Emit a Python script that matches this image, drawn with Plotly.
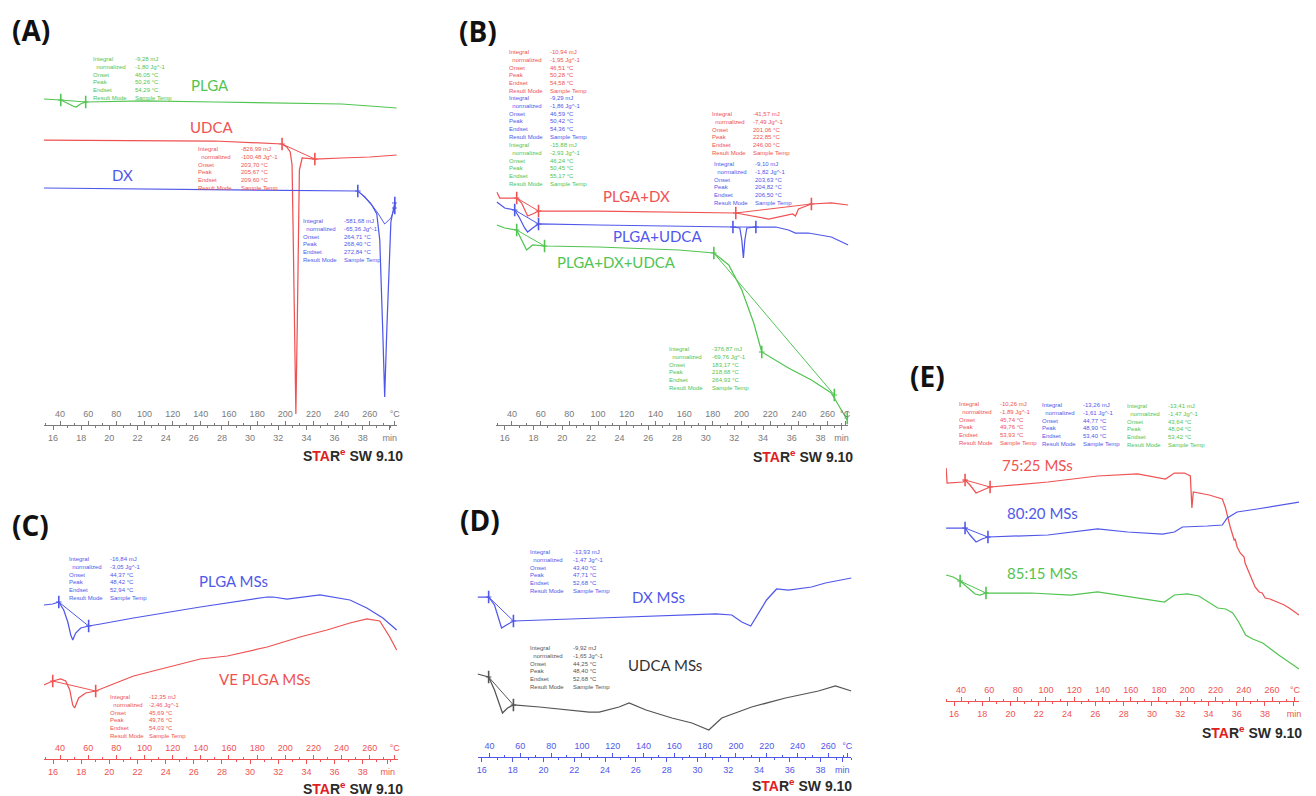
import plotly.graph_objects as go

W, H = 1316, 796
RED, BLUE, GREEN, GREY = '#ef5252', '#5058ea', '#52c452', '#555555'
AXGREY = '#7a7a7a'

# ---------------- axis tick labels / heating programme ----------------
TEMP_TICKS = list(range(40, 261, 20))          # °C
TIME_TICKS = list(range(16, 39, 2))            # min
T_AT_16MIN, T0_MIN, RATE = 35.0, 16.0, 10.0    # 35 °C at 16 min, 10 K/min

# ---------------- (A) raw materials ----------------
A_PLGA_T  = [28.5, 40.5, 45.0, 49.0, 51.5, 54.5, 58.2, 100, 150, 200, 240, 260, 279.2]
A_PLGA_HF = [32.6, 32.5, 32.2, 31.9, 31.8, 32.1, 32.3, 32.4, 32.3, 32.2, 32.1, 31.9, 31.7]
A_PLGA_MK_T, A_PLGA_MK_HF = [40.5, 58.2], [32.5, 32.3]

A_UDCA_T  = [28.5, 100, 150, 197.7, 201.0, 203.5, 204.8, 205.5, 206.5, 207.5, 208.5, 209.3, 210.0, 212.0, 221.0, 240, 260, 279.2]
A_UDCA_HF = [28.5, 28.4, 28.4, 28.1, 27.8, 27.3, 26.0, 20.0, 8.0, 1.1, 10.0, 20.0, 25.5, 26.7, 26.6, 26.7, 26.8, 27.0]
A_UDCA_MK_T, A_UDCA_MK_HF = [197.7, 221.0], [28.1, 26.6]

A_DX_T  = [28.5, 100, 200, 251.5, 256.5, 261.4, 265.0, 267.1, 269.2, 270.6, 272.1, 273.9, 275.0, 276.4, 277.8]
A_DX_HF = [23.7, 23.6, 23.5, 23.4, 22.8, 22.0, 21.1, 18.5, 9.5, 2.8, 9.5, 17.5, 20.3, 21.3, 22.2]
A_DX_BL_T  = [251.5, 260.0, 265.7, 270.6, 275.0, 277.8]
A_DX_BL_HF = [23.4, 22.3, 21.2, 20.1, 20.7, 21.7]
A_DX_MK_T, A_DX_MK_HF = [251.5, 277.8, 277.8], [23.4, 22.2, 21.7]

# ---------------- (B) physical mixtures ----------------
B_DX_T  = [29.4, 31.5, 37.0, 43.3, 46.7, 50.9, 54.4, 58.5, 100, 150, 196.0, 218.9, 229.6, 235.6, 237.6, 239.7, 248.7, 262.6, 274.4]
B_DX_HF = [23.3, 22.7, 22.7, 22.7, 22.2, 20.9, 21.1, 21.4, 21.4, 21.3, 21.2, 20.6, 20.9, 21.1, 20.9, 21.6, 22.1, 22.2, 22.0]
B_DX_MK_T, B_DX_MK_HF = [43.3, 58.5, 196.0, 248.7], [22.7, 21.4, 21.2, 22.1]

B_UDCA_T  = [29.4, 34.9, 41.9, 45.3, 48.8, 50.9, 54.4, 58.5, 100, 170, 194.0, 198.8, 200.2, 201.3, 202.3, 203.7, 210.0, 223.9, 232.7, 237.6, 246.6, 262.6, 274.4]
B_UDCA_HF = [22.3, 21.7, 21.5, 20.7, 19.7, 19.3, 19.7, 20.1, 20.0, 19.9, 19.8, 19.7, 18.5, 16.7, 18.5, 19.7, 19.8, 19.8, 19.5, 19.2, 19.2, 18.8, 18.0]
B_UDCA_MK_T, B_UDCA_MK_HF = [41.9, 58.5, 194.0, 210.0], [21.5, 20.1, 19.8, 19.8]

B_MIX_T  = [29.4, 34.9, 43.3, 47.4, 50.2, 54.4, 62.7, 100, 156.4, 180.7, 191.1, 200.2, 208.5, 214.1, 232.7, 248.7, 262.6, 267.5, 273.7]
B_MIX_HF = [20.0, 19.7, 19.5, 18.3, 17.5, 18.0, 17.9, 17.8, 17.5, 17.2, 16.0, 13.5, 10.2, 7.3, 5.7, 4.5, 3.2, 2.0, 0.5]
B_MIX_MK_T, B_MIX_MK_HF = [43.3, 62.7, 180.7, 214.1, 264.7, 273.7], [19.5, 17.9, 17.2, 7.3, 3.0, 0.7]

# ---------------- (C) blank microspheres ----------------
C_PLGA_T  = [28.5, 34.8, 39.1, 42.6, 45.5, 47.6, 49.0, 51.1, 54.7, 60.3, 68.8, 92.2, 139.6, 163.0, 187.1, 191.3, 201.2, 224.6, 233.8, 245.9, 257.9, 269.3, 279.1]
C_PLGA_HF = [15.4, 15.5, 15.7, 14.9, 13.7, 12.4, 11.9, 12.6, 13.1, 13.3, 13.5, 14.1, 15.2, 15.7, 16.2, 16.2, 16.0, 16.4, 16.2, 15.9, 15.1, 14.1, 12.9]
C_PLGA_MK_T, C_PLGA_MK_HF = [39.1, 60.3], [15.7, 13.3]

C_VE_T  = [28.5, 31.3, 34.8, 40.5, 44.0, 46.9, 49.0, 50.4, 53.2, 58.2, 65.3, 92.2, 116.3, 139.6, 158.8, 187.1, 210.4, 229.6, 245.9, 257.9, 267.1, 274.2, 279.1]
C_VE_HF = [7.4, 7.6, 7.8, 8.0, 7.8, 6.9, 5.4, 5.1, 6.1, 6.6, 6.8, 8.3, 9.2, 10.0, 10.3, 11.2, 12.2, 12.9, 13.6, 14.0, 13.8, 12.2, 10.9]
C_VE_MK_T, C_VE_MK_HF = [34.8, 65.3], [7.8, 6.8]

# ---------------- (D) drug-loaded microspheres ----------------
D_DX_T  = [32.2, 39.4, 43.2, 46.5, 47.8, 51.0, 55.5, 111.2, 175.9, 187.0, 197.3, 203.8, 209.6, 214.8, 219.9, 226.4, 234.2, 249.1, 258.1, 275.0]
D_DX_HF = [16.0, 16.0, 15.2, 13.7, 12.9, 13.2, 13.6, 13.9, 14.2, 14.3, 14.2, 13.5, 13.1, 14.4, 15.7, 16.8, 16.7, 17.0, 17.4, 17.9]
D_DX_MK_T, D_DX_MK_HF = [39.4, 55.5], [16.0, 13.6]

D_UDCA_T  = [32.2, 39.4, 43.2, 46.5, 48.4, 51.7, 55.5, 72.4, 104.7, 111.2, 124.1, 130.6, 141.6, 158.4, 171.4, 182.4, 190.8, 210.2, 232.2, 253.6, 264.6, 275.0]
D_UDCA_HF = [8.3, 8.0, 6.7, 5.2, 4.4, 4.9, 5.2, 5.0, 4.5, 4.5, 5.0, 5.4, 4.7, 3.9, 3.4, 2.7, 3.9, 5.0, 5.9, 6.6, 7.1, 6.6]
D_UDCA_MK_T, D_UDCA_MK_HF = [39.4, 55.5], [8.0, 5.2]

# ---------------- (E) polymer ratio microspheres ----------------
E_75_T  = [29.4, 30.1, 41.4, 42.8, 46.3, 50.6, 55.5, 60.5, 101.4, 136.6, 164.8, 184.6, 190.9, 198.0, 202.2, 203.3, 204.3, 215.6, 224.8, 226.9, 230.4, 233.2, 233.9, 235.3, 237.5, 240.2, 240.9, 243.8, 245.9, 248.0, 250.9, 253.0, 255.1, 258.6, 263.6, 268.6, 272.1, 279.1]
E_75_HF = [23.3, 21.8, 21.9, 22.1, 21.6, 20.8, 21.1, 21.4, 21.9, 22.5, 22.7, 22.2, 22.8, 22.8, 22.5, 19.3, 20.9, 20.6, 20.2, 19.4, 17.4, 16.1, 16.2, 15.4, 14.8, 14.4, 13.8, 12.8, 12.1, 11.4, 10.9, 10.8, 10.3, 10.2, 9.9, 9.6, 9.3, 8.6]
E_75_MK_T, E_75_MK_HF = [42.8, 60.5], [22.1, 21.4]

E_80_T  = [29.4, 42.8, 46.3, 50.6, 54.8, 59.0, 101.4, 136.6, 157.8, 182.5, 190.9, 196.6, 214.2, 224.8, 228.3, 235.3, 249.4, 279.1]
E_80_HF = [17.3, 17.3, 16.6, 15.9, 16.2, 16.4, 16.6, 17.2, 16.9, 16.7, 16.9, 17.4, 17.5, 17.6, 18.3, 18.9, 19.2, 19.9]
E_80_MK_T, E_80_MK_HF = [42.8, 59.0], [17.3, 16.4]

E_85_T  = [29.4, 34.4, 39.3, 44.9, 49.9, 53.4, 57.6, 89.4, 117.6, 136.6, 159.9, 183.9, 190.9, 200.1, 208.2, 215.3, 221.6, 227.2, 232.2, 236.4, 241.3, 246.3, 253.4, 264.7, 279.1]
E_85_HF = [12.6, 12.4, 12.0, 11.3, 10.7, 10.6, 10.8, 10.8, 10.6, 10.9, 10.4, 9.9, 10.6, 10.7, 10.5, 9.9, 9.3, 9.2, 8.8, 7.9, 6.6, 6.2, 5.8, 4.6, 3.2]
E_85_MK_T, E_85_MK_HF = [39.3, 57.6], [12.0, 10.8]

# ---------------- evaluation boxes (STARe result texts) ----------------
EVAL_LABELS = ['Integral', '\u00a0\u00a0normalized', 'Onset', 'Peak', 'Endset', 'Result Mode']
EV_A_PLGA  = ['-9,28 mJ', '-1,80 Jg^-1', '46,05 °C', '50,26 °C', '54,29 °C', 'Sample Temp']
EV_A_UDCA  = ['-826,99 mJ', '-100,48 Jg^-1', '203,70 °C', '205,67 °C', '209,60 °C', 'Sample Temp']
EV_A_DX    = ['-581,68 mJ', '-65,36 Jg^-1', '264,71 °C', '268,40 °C', '272,84 °C', 'Sample Temp']
EV_B_DX1   = ['-10,94 mJ', '-1,95 Jg^-1', '46,51 °C', '50,28 °C', '54,58 °C', 'Sample Temp']
EV_B_UDCA1 = ['-9,29 mJ', '-1,86 Jg^-1', '46,59 °C', '50,42 °C', '54,36 °C', 'Sample Temp']
EV_B_MIX1  = ['-15,88 mJ', '-2,93 Jg^-1', '46,24 °C', '50,45 °C', '55,17 °C', 'Sample Temp']
EV_B_DX2   = ['-41,57 mJ', '-7,49 Jg^-1', '201,06 °C', '222,85 °C', '246,00 °C', 'Sample Temp']
EV_B_UDCA2 = ['-9,10 mJ', '-1,82 Jg^-1', '203,63 °C', '204,82 °C', '206,50 °C', 'Sample Temp']
EV_B_MIX2  = ['-376,87 mJ', '-69,76 Jg^-1', '183,17 °C', '218,68 °C', '264,93 °C', 'Sample Temp']
EV_C_PLGA  = ['-16,84 mJ', '-3,05 Jg^-1', '44,37 °C', '48,42 °C', '52,94 °C', 'Sample Temp']
EV_C_VE    = ['-12,35 mJ', '-2,46 Jg^-1', '45,69 °C', '49,76 °C', '54,03 °C', 'Sample Temp']
EV_D_DX    = ['-13,93 mJ', '-1,47 Jg^-1', '43,40 °C', '47,71 °C', '52,68 °C', 'Sample Temp']
EV_D_UDCA  = ['-9,92 mJ', '-1,65 Jg^-1', '44,25 °C', '48,40 °C', '52,68 °C', 'Sample Temp']
EV_E_75    = ['-10,26 mJ', '-1,89 Jg^-1', '45,74 °C', '49,76 °C', '53,93 °C', 'Sample Temp']
EV_E_80    = ['-13,26 mJ', '-1,61 Jg^-1', '44,77 °C', '48,90 °C', '53,40 °C', 'Sample Temp']
EV_E_85    = ['-13,41 mJ', '-1,47 Jg^-1', '43,64 °C', '48,04 °C', '53,42 °C', 'Sample Temp']

# ---------------- layout of the five thermogram panels (pixels) ----------------
PANELS = {
    1: dict(x0=43, x1=397, axis=425, top=40, trange=(28.5, 279.2), unitT=277.7, unit_t=39.92, color=AXGREY),
    2: dict(x0=497, x1=850, axis=425, top=40, trange=(29.2, 274.5), unitT=272.2, unit_t=39.46, color=AXGREY),
    3: dict(x0=43, x1=398, axis=759, top=540, trange=(28.5, 279.9), unitT=277.7, unit_t=39.78, color=RED),
    4: dict(x0=478, x1=853, axis=757, top=540, trange=(32.2, 275.0), unitT=272.3, unit_t=39.41, color=BLUE),
    5: dict(x0=948, x1=1302, axis=701, top=390, trange=(29.4, 279.1), unitT=276.2, unit_t=40.05, color=RED),
}


def fx(px):
    return px / W


def fy(py):
    return 1 - py / H


def to_min(T):
    return (T - T_AT_16MIN) / RATE + T0_MIN


fig = go.Figure()


def axn(i, kind):
    return kind if i == 1 else f'{kind}{i}'


def curve(ax, T, HF, color, width=1.25):
    fig.add_trace(go.Scatter(x=T, y=HF, mode='lines', line=dict(color=color, width=width),
                             xaxis=axn(ax, 'x'), yaxis=axn(ax, 'y'),
                             hoverinfo='skip', showlegend=False))


def marks(ax, T, HF, color, baselines=()):
    for a, b in baselines:
        curve(ax, [T[a], T[b]], [HF[a], HF[b]], color, width=1.0)
    fig.add_trace(go.Scatter(x=T, y=HF, mode='markers',
                             marker=dict(symbol='line-ns-open', size=9, color=color,
                                         line=dict(color=color, width=1.6)),
                             xaxis=axn(ax, 'x'), yaxis=axn(ax, 'y'),
                             hoverinfo='skip', showlegend=False))
    fig.add_trace(go.Scatter(x=T, y=HF, mode='markers',
                             marker=dict(symbol='line-ew-open', size=4, color=color,
                                         line=dict(color=color, width=1.2)),
                             xaxis=axn(ax, 'x'), yaxis=axn(ax, 'y'),
                             hoverinfo='skip', showlegend=False))


# (A)
curve(1, A_PLGA_T, A_PLGA_HF, GREEN); marks(1, A_PLGA_MK_T, A_PLGA_MK_HF, GREEN, [(0, 1)])
curve(1, A_UDCA_T, A_UDCA_HF, RED);   marks(1, A_UDCA_MK_T, A_UDCA_MK_HF, RED, [(0, 1)])
curve(1, A_DX_T, A_DX_HF, BLUE);      curve(1, A_DX_BL_T, A_DX_BL_HF, BLUE, 1.0)
marks(1, A_DX_MK_T, A_DX_MK_HF, BLUE)
# (B)
curve(2, B_DX_T, B_DX_HF, RED);       marks(2, B_DX_MK_T, B_DX_MK_HF, RED, [(0, 1), (2, 3)])
curve(2, B_UDCA_T, B_UDCA_HF, BLUE);  marks(2, B_UDCA_MK_T, B_UDCA_MK_HF, BLUE, [(0, 1), (2, 3)])
curve(2, B_MIX_T, B_MIX_HF, GREEN);   marks(2, B_MIX_MK_T, B_MIX_MK_HF, GREEN, [(0, 1), (2, 4)])
# (C)
curve(3, C_PLGA_T, C_PLGA_HF, BLUE);  marks(3, C_PLGA_MK_T, C_PLGA_MK_HF, BLUE, [(0, 1)])
curve(3, C_VE_T, C_VE_HF, RED);       marks(3, C_VE_MK_T, C_VE_MK_HF, RED, [(0, 1)])
# (D)
curve(4, D_DX_T, D_DX_HF, BLUE);      marks(4, D_DX_MK_T, D_DX_MK_HF, BLUE, [(0, 1)])
curve(4, D_UDCA_T, D_UDCA_HF, GREY);  marks(4, D_UDCA_MK_T, D_UDCA_MK_HF, GREY, [(0, 1)])
# (E)
curve(5, E_75_T, E_75_HF, RED);       marks(5, E_75_MK_T, E_75_MK_HF, RED, [(0, 1)])
curve(5, E_80_T, E_80_HF, BLUE);      marks(5, E_80_MK_T, E_80_MK_HF, BLUE, [(0, 1)])
curve(5, E_85_T, E_85_HF, GREEN);     marks(5, E_85_MK_T, E_85_MK_HF, GREEN, [(0, 1)])

layout = dict(width=W, height=H, margin=dict(l=0, r=0, t=0, b=0),
              paper_bgcolor='white', plot_bgcolor='rgba(0,0,0,0)', showlegend=False)

for i, p in PANELS.items():
    pos = fy(p['axis'])
    col = p['color']
    tfont = dict(family='Liberation Sans, Arial, sans-serif', size=9, color=col)
    layout[axn(i, 'xaxis')] = dict(
        domain=[fx(p['x0']), fx(p['x1'])], range=list(p['trange']),
        anchor='free', position=pos, side='top',
        showline=True, linecolor=col, linewidth=1, showgrid=False, zeroline=False,
        ticks='outside', ticklen=4, tickcolor=col, tickwidth=1,
        tickmode='array', tickvals=TEMP_TICKS + [p['unitT']],
        ticktext=[str(v) for v in TEMP_TICKS] + ['°C'], tickfont=tfont,
        minor=dict(ticks='outside', ticklen=2, tick0=30, dtick=10, tickcolor=col, showgrid=False),
        fixedrange=True)
    layout[axn(i, 'yaxis')] = dict(
        domain=[pos, fy(p['top'])], range=[0, (p['axis'] - p['top']) / 10.0],
        visible=False, anchor=axn(i, 'x'), fixedrange=True)
    j = i + 5
    layout[f'xaxis{j}'] = dict(
        overlaying=axn(i, 'x'), anchor='free', position=pos, side='bottom',
        range=[to_min(p['trange'][0]), to_min(p['trange'][1])],
        showline=False, showgrid=False, zeroline=False,
        ticks='outside', ticklen=4, tickcolor=col, tickwidth=1,
        tickmode='array', tickvals=TIME_TICKS + [p['unit_t']],
        ticktext=[str(v) for v in TIME_TICKS] + ['min'], tickfont=tfont,
        minor=dict(ticks='outside', ticklen=2, tick0=15, dtick=1, tickcolor=col, showgrid=False),
        fixedrange=True)
    fig.add_trace(go.Scatter(x=[], y=[], xaxis=f'x{j}', yaxis=axn(i, 'y'),
                             showlegend=False, hoverinfo='skip'))

fig.update_layout(**layout)

anns = []


def text(t, px, py, size, color, family='Lato, sans-serif', xanchor='center', yanchor='middle'):
    anns.append(dict(text=t, x=fx(px), y=fy(py), xref='paper', yref='paper',
                     xanchor=xanchor, yanchor=yanchor, showarrow=False,
                     font=dict(family=family, size=size, color=color), borderpad=0))


def evalbox(values, lx, vx, row1, color):
    for col_text, x in ((EVAL_LABELS, lx), (values, vx)):
        anns.append(dict(text='<br>'.join(col_text), x=fx(x), y=fy(row1 - 4.0),
                         xref='paper', yref='paper', xanchor='left', yanchor='top',
                         align='left', showarrow=False, borderpad=0,
                         font=dict(family='Liberation Sans, Arial, sans-serif', size=6, color=color)))


# panel letters
for lab, (px, py) in {'(A)': (30, 30), '(B)': (478, 31), '(C)': (30, 525),
                      '(D)': (480, 520), '(E)': (929, 376)}.items():
    text('<b>' + lab + '</b>', px, py, 28, '#111111', family='Open Sans, sans-serif')

# curve names
text('PLGA', 210, 85, 15, GREEN)
text('UDCA', 211, 127, 15, RED)
text('DX', 122, 175, 15, BLUE)
text('PLGA+DX', 637, 196, 15, RED)
text('PLGA+UDCA', 659, 236, 15, BLUE)
text('PLGA+DX+UDCA', 617, 262, 15, GREEN)
text('PLGA MSs', 233, 581, 15, BLUE)
text('VE PLGA MSs', 265, 679, 15, RED)
text('DX MSs', 660, 597, 15, BLUE)
text('UDCA MSs', 666, 665, 15, '#333333')
text('75:25 MSs', 1040, 465, 15, RED)
text('80:20 MSs', 1045, 513, 15, BLUE)
text('85:15 MSs', 1045, 573, 15, GREEN)

# evaluation boxes
evalbox(EV_A_PLGA, 91, 133, 59, GREEN)
evalbox(EV_A_UDCA, 197, 240, 149, RED)
evalbox(EV_A_DX, 302, 343, 221, BLUE)
evalbox(EV_B_DX1, 509, 550, 52, RED)
evalbox(EV_B_UDCA1, 509, 550, 98, BLUE)
evalbox(EV_B_MIX1, 509, 550, 145, GREEN)
evalbox(EV_B_DX2, 712, 753, 114, RED)
evalbox(EV_B_UDCA2, 714, 755, 164, BLUE)
evalbox(EV_B_MIX2, 669, 712, 349, GREEN)
evalbox(EV_C_PLGA, 67, 108, 559, BLUE)
evalbox(EV_C_VE, 108, 147, 697, RED)
evalbox(EV_D_DX, 530, 573, 552, BLUE)
evalbox(EV_D_UDCA, 530, 573, 648, GREY)
evalbox(EV_E_75, 960, 1001, 404, RED)
evalbox(EV_E_80, 1043, 1084, 405, BLUE)
evalbox(EV_E_85, 1128, 1170, 406, GREEN)

# software stamp
STAMP = ("<b>S<span style='color:#e02020'>TA</span>R<sup><span style='color:#e02020'>e</span></sup>"
         " SW 9.10</b>")
for px, py in [(353, 455), (804, 456), (353, 788), (803, 785), (1255, 732)]:
    text(STAMP, px, py, 14, '#2a2a2a', family='Liberation Sans, Arial, sans-serif')

fig.update_layout(annotations=anns)
fig.write_html('out.html', config={'displayModeBar': False},
               post_script="document.body.style.margin='0';document.body.style.overflow='hidden';")
